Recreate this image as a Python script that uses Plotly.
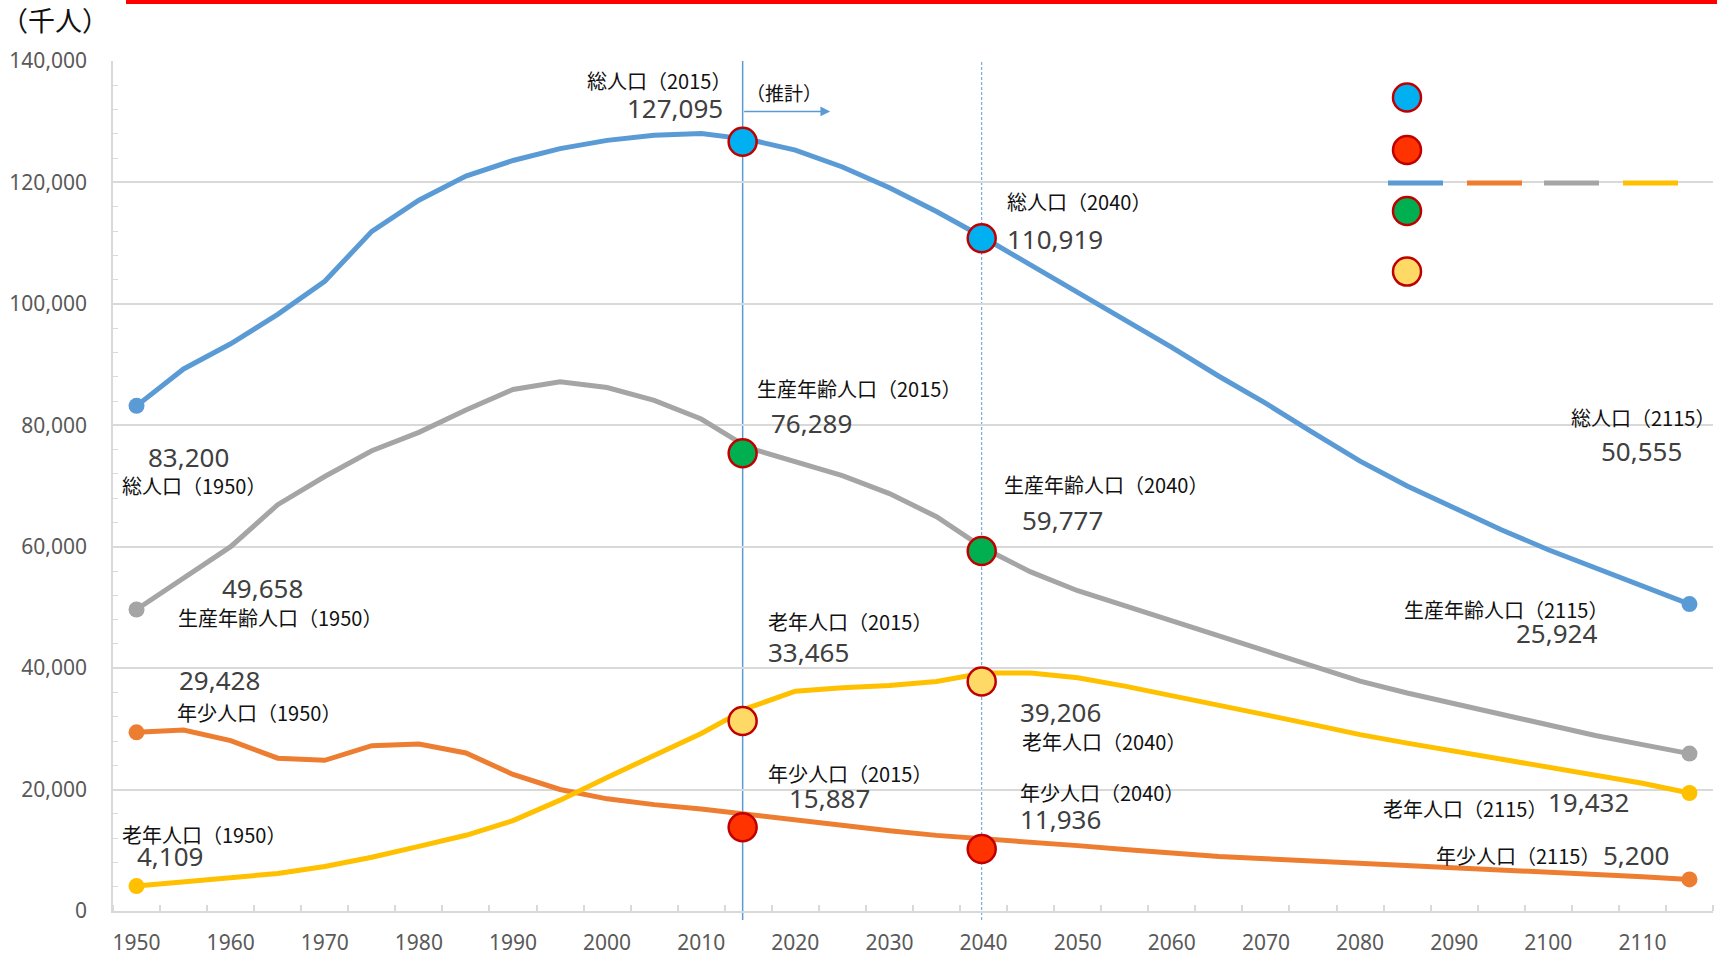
import plotly.graph_objects as go

# ---------------- data (thousand persons) ----------------
years = list(range(1950, 2116, 5))
x_tick_years = list(range(1950, 2111, 10))

total = [83200, 89276, 93419, 98275, 103720, 111940, 117060, 121049, 123611, 125570,
         126926, 127768, 128057, 127095, 125325, 122544, 119125, 115216, 110919, 106421,
         101923, 97441, 92840, 88077, 83600, 78800, 74100, 70000, 66400, 62800,
         59500, 56500, 53500, 50555]
young = [29428, 29798, 28067, 25166, 24823, 27221, 27507, 26033, 22486, 20014,
         18472, 17521, 16803, 15887, 15075, 14073, 13212, 12457, 11936, 11384,
         10767, 10123, 9508, 8975, 8600, 8250, 7850, 7500, 7150, 6800,
         6500, 6100, 5650, 5200]
working = [49658, 54730, 60002, 66928, 71566, 75807, 78835, 82506, 85904, 87165,
           86220, 84092, 81032, 76289, 74058, 71701, 68754, 64942, 59777, 55845,
           52750, 50276, 47928, 45291, 42800, 40450, 37850, 35900, 34100, 32350,
           30500, 28900, 27400, 25924]
old = [4109, 4747, 5350, 6181, 7331, 8865, 10647, 12468, 14895, 18261,
       22005, 25672, 29246, 33465, 36192, 36771, 37160, 37817, 39206, 39192,
       38406, 37042, 35403, 33810, 32300, 30700, 29050, 27650, 26300, 24900,
       23550, 22250, 21050, 19432]

# highlighted points (2015 / 2040) as drawn in the picture
hl_x = [2014.4, 2039.8]
hl_total = [126700, 110800]
hl_working = [75400, 59300]
hl_old = [31300, 37800]
hl_young = [13800, 10200]

# ---------------- styling ----------------
W, H = 1717, 955
ML, MR, MT, MB = 113, 4, 61, 44
PW, PH = W - ML - MR, H - MT - MB

C_TOTAL, C_YOUNG, C_WORK, C_OLD = "#5B9BD5", "#ED7D31", "#A5A5A5", "#FFC000"
JP = "Noto Sans CJK JP"
NUM = "Noto Sans"


def px2paper(px, py):
    return (px - ML) / PW, (H - MB - py) / PH


fig = go.Figure()

series = [
    ("young", young, C_YOUNG),
    ("old", old, C_OLD),
    ("working", working, C_WORK),
    ("total", total, C_TOTAL),
]
for name, vals, col in series:
    fig.add_trace(go.Scatter(x=years, y=vals, mode="lines", name=name,
                             line=dict(color=col, width=5), hoverinfo="skip",
                             showlegend=False))
    fig.add_trace(go.Scatter(x=[years[0], years[-1]], y=[vals[0], vals[-1]],
                             mode="markers", marker=dict(size=16, color=col),
                             hoverinfo="skip", showlegend=False))

hl = [(hl_total, "#00B0F0"), (hl_working, "#00B050"), (hl_old, "#FFD966"), (hl_young, "#FF3300")]
for vals, col in hl:
    fig.add_trace(go.Scatter(x=hl_x, y=vals, mode="markers",
                             marker=dict(size=28, color=col, line=dict(color="#C00000", width=2.5)),
                             hoverinfo="skip", showlegend=False))

shapes = []
# vertical reference lines
shapes.append(dict(type="line", xref="x", yref="paper", x0=hl_x[0], x1=hl_x[0],
                   y0=-9 / PH, y1=1, line=dict(color=C_TOTAL, width=1.5), layer="below"))
shapes.append(dict(type="line", xref="x", yref="paper", x0=hl_x[1], x1=hl_x[1],
                   y0=-9 / PH, y1=1, line=dict(color=C_TOTAL, width=1, dash="3px,2px"), layer="below"))
# red top rule
x0p, y0p = px2paper(126, 0)
x1p, y1p = px2paper(W, 4)
shapes.append(dict(type="rect", xref="paper", yref="paper", x0=x0p, x1=x1p, y0=y1p, y1=y0p,
                   fillcolor="#FF0000", line=dict(width=0)))
# legend-like decoration (no text in the original)
for (cy, col) in [(97.5, "#00B0F0"), (150, "#FF3300"), (211, "#00B050"), (271.6, "#FFD966")]:
    ax_, ay_ = px2paper(1407, cy)
    shapes.append(dict(type="circle", xref="paper", yref="paper", xsizemode="pixel", ysizemode="pixel",
                       xanchor=ax_, yanchor=ay_, x0=-14, x1=14, y0=-14, y1=14,
                       fillcolor=col, line=dict(color="#C00000", width=2.5)))
for (xa, xb, col) in [(1388, 1443, C_TOTAL), (1467, 1522, C_YOUNG), (1544, 1599, C_WORK), (1623, 1678, C_OLD)]:
    pa, py_ = px2paper(xa, 183)
    pb, _ = px2paper(xb, 183)
    shapes.append(dict(type="line", xref="paper", yref="paper", x0=pa, x1=pb, y0=py_, y1=py_,
                       line=dict(color=col, width=5)))

annotations = []


def lab(text, year_idx, vals, xanchor, xshift, yshift, kind):
    font = dict(family=JP, size=20, color="#111111") if kind == "jp" else dict(family=NUM, size=26, color="#404040")
    annotations.append(dict(x=years[year_idx], y=vals[year_idx], xref="x", yref="y", text=text,
                            showarrow=False, xanchor=xanchor, yanchor="middle",
                            xshift=xshift, yshift=yshift, font=font, borderpad=0))


def fmt(v):
    return f"{v:,}"


i1950, i2015, i2040, i2115 = 0, years.index(2015), years.index(2040), len(years) - 1

# total
lab("総人口（2015）", i2015, total, "center", -89, 59, "jp")
lab(fmt(total[i2015]), i2015, total, "right", -24, 31, "num")
lab("総人口（2040）", i2040, total, "left", 22, 36, "jp")
lab(fmt(total[i2040]), i2040, total, "left", 22, -1, "num")
lab("総人口（2115）", i2115, total, "right", 27, 187, "jp")
lab(fmt(total[i2115]), i2115, total, "right", -6, 153, "num")
lab(fmt(total[i1950]), i1950, total, "left", 10, -51, "num")
lab("総人口（1950）", i1950, total, "left", -16, -80, "jp")
# working
lab("生産年齢人口（2015）", i2015, working, "left", 8, 59, "jp")
lab(fmt(working[i2015]), i2015, working, "left", 22, 25, "num")
lab("生産年齢人口（2040）", i2040, working, "left", 19, 64, "jp")
lab(fmt(working[i2040]), i2040, working, "left", 37, 28, "num")
lab(fmt(working[i1950]), i1950, working, "left", 84, 22, "num")
lab("生産年齢人口（1950）", i1950, working, "left", 40, -8, "jp")
lab("生産年齢人口（2115）", i2115, working, "right", -80, 144, "jp")
lab(fmt(working[i2115]), i2115, working, "right", -91, 121, "num")
# old
lab("老年人口（2015）", i2015, old, "left", 19, 86, "jp")
lab(fmt(old[i2015]), i2015, old, "left", 19, 56, "num")
lab(fmt(old[i2040]), i2040, old, "left", 35, -39, "num")
lab("老年人口（2040）", i2040, old, "left", 37, -69, "jp")
lab("老年人口（2115）", i2115, old, "right", -141, -15, "jp")
lab(fmt(old[i2115]), i2115, old, "right", -59, -9, "num")
lab("老年人口（1950）", i1950, old, "left", -16, 52, "jp")
lab(fmt(old[i1950]), i1950, old, "left", -1, 30, "num")
# young
lab(fmt(young[i1950]), i1950, young, "left", 41, 52, "num")
lab("年少人口（1950）", i1950, young, "left", 39, 20, "jp")
lab("年少人口（2015）", i2015, young, "left", 19, 41, "jp")
lab(fmt(young[i2015]), i2015, young, "left", 40, 17, "num")
lab("年少人口（2040）", i2040, young, "left", 35, 46, "jp")
lab(fmt(young[i2040]), i2040, young, "left", 35, 20, "num")
lab("年少人口（2115）", i2115, young, "right", -88, 24, "jp")
lab(fmt(young[i2115]), i2115, young, "right", -19, 24, "num")

# arrow "（推計）"
arrow_y = 131700
annotations.append(dict(x=2023.7, y=arrow_y, ax=hl_x[0], ay=arrow_y, xref="x", yref="y",
                        axref="x", ayref="y", text="", showarrow=True, arrowhead=2,
                        arrowsize=1.3, arrowwidth=1.5, arrowcolor=C_TOTAL))
annotations.append(dict(x=hl_x[0], y=arrow_y, xref="x", yref="y", text="（推計）", showarrow=False,
                        xanchor="left", yanchor="middle", xshift=2, yshift=19, borderpad=0,
                        font=dict(family=JP, size=19, color="#111111")))
# unit
ux, uy = px2paper(0, 19)
annotations.append(dict(x=ux, y=uy, xref="paper", yref="paper", text="（千人）", showarrow=False,
                        xanchor="left", yanchor="middle", borderpad=0,
                        font=dict(family=JP, size=27, color="#111111")))

fig.update_layout(
    width=W, height=H, autosize=False,
    margin=dict(l=ML, r=MR, t=MT, b=MB, pad=0, autoexpand=False),
    paper_bgcolor="white", plot_bgcolor="white",
    font=dict(family=JP),
    shapes=shapes, annotations=annotations,
    showlegend=False,
)
fig.update_xaxes(
    range=[1947.5, 2117.5], tickmode="array", tickvals=x_tick_years,
    ticktext=[str(y) for y in x_tick_years],
    tickfont=dict(family=NUM, size=21, color="#595959"),
    showgrid=False, zeroline=False, showline=True, linecolor="#D9D9D9", linewidth=2,
    ticks="", ticklabelstandoff=12, automargin=False,
    minor=dict(tick0=1952.5, dtick=5, ticks="inside", ticklen=6, tickcolor="#D9D9D9", tickwidth=1.5,
               showgrid=False),
)
fig.update_yaxes(
    range=[0, 140000], dtick=20000, tickformat=",d",
    tickfont=dict(family=NUM, size=21, color="#595959"),
    showgrid=True, gridcolor="#D9D9D9", gridwidth=1.5, zeroline=False,
    showline=True, linecolor="#D9D9D9", linewidth=1.5, ticks="", ticklabelstandoff=20,
    automargin=False,
    minor=dict(dtick=4000, ticks="inside", ticklen=5, tickcolor="#D9D9D9", tickwidth=1,
               showgrid=False),
)

fig.write_html("out.html", config={"displayModeBar": False},
               post_script="document.body.style.margin='0';document.body.style.overflow='hidden';")
